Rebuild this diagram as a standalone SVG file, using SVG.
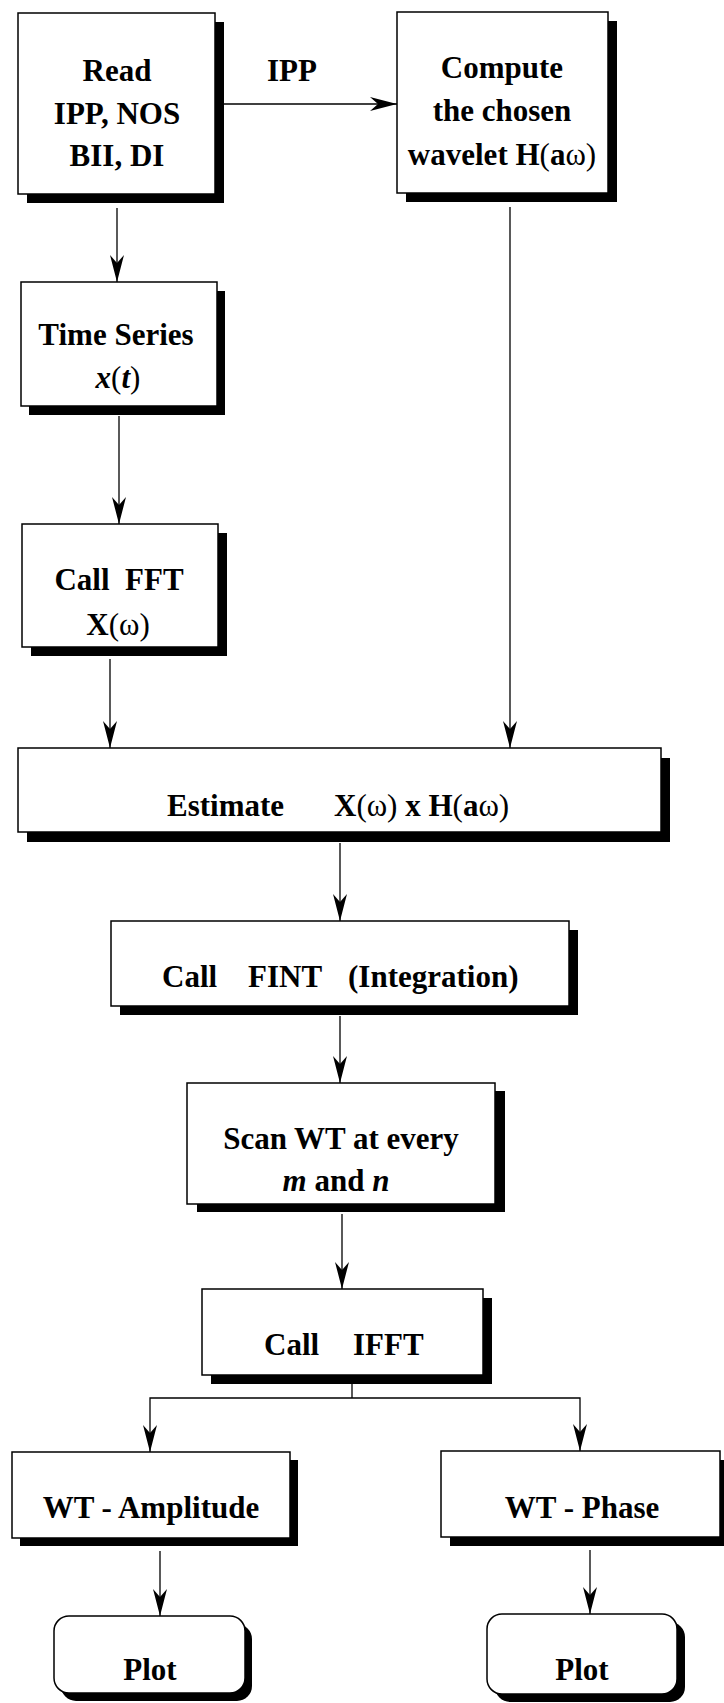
<svg xmlns="http://www.w3.org/2000/svg" width="724" height="1703" viewBox="0 0 724 1703">
<style>
.bg{fill:#fff}
.sh{fill:#000}
.bx{fill:#fff;stroke:#000;stroke-width:1.5}
.t{font-family:"Liberation Serif","Times New Roman",serif;font-weight:bold;font-size:31px;fill:#000}
.c{text-anchor:middle}
.n{font-weight:normal}
.i{font-style:italic}
.ln{fill:none;stroke:#000;stroke-width:1.3}
</style>
<defs>
<marker id="ah" viewBox="0 0 27 14" refX="27" refY="7" markerWidth="27" markerHeight="14" markerUnits="userSpaceOnUse" orient="auto">
<path d="M0,0 L27,7 L0,14 L8,7 Z" fill="#000"/>
</marker>
</defs>
<rect class="bg" x="0" y="0" width="724" height="1703"/>

<g id="connectors">
<line class="ln" x1="224" y1="104" x2="397" y2="104" marker-end="url(#ah)"/>
<line class="ln" x1="117" y1="208" x2="117" y2="282" marker-end="url(#ah)"/>
<line class="ln" x1="119" y1="416" x2="119" y2="524" marker-end="url(#ah)"/>
<line class="ln" x1="110" y1="659" x2="110" y2="748" marker-end="url(#ah)"/>
<line class="ln" x1="510" y1="207" x2="510" y2="748" marker-end="url(#ah)"/>
<line class="ln" x1="340" y1="843" x2="340" y2="921" marker-end="url(#ah)"/>
<line class="ln" x1="340" y1="1016" x2="340" y2="1083" marker-end="url(#ah)"/>
<line class="ln" x1="342" y1="1214" x2="342" y2="1289" marker-end="url(#ah)"/>
<path class="ln" d="M352,1384 V1398"/>
<path class="ln" d="M352,1398 H150 V1452" marker-end="url(#ah)"/>
<path class="ln" d="M352,1398 H580 V1451" marker-end="url(#ah)"/>
<line class="ln" x1="160" y1="1551" x2="160" y2="1616" marker-end="url(#ah)"/>
<line class="ln" x1="590" y1="1550" x2="590" y2="1614" marker-end="url(#ah)"/>
</g>

<text id="lbl-ipp" class="t c" x="292" y="81">IPP</text>

<g id="read">
<rect class="sh" x="27" y="22" width="197" height="181"/>
<rect class="bx" x="18" y="13" width="197" height="181"/>
<text class="t c" x="117" y="81">Read</text>
<text class="t c" x="117" y="124">IPP, NOS</text>
<text class="t c" x="117" y="166">BII, DI</text>
</g>

<g id="compute">
<rect class="sh" x="406" y="21" width="211" height="181"/>
<rect class="bx" x="397" y="12" width="211" height="181"/>
<text class="t c" x="502" y="78">Compute</text>
<text class="t c" x="502" y="121">the chosen</text>
<text class="t c" x="502" y="165">wavelet H<tspan class="n">(</tspan>a<tspan class="n">ω)</tspan></text>
</g>

<g id="timeseries">
<rect class="sh" x="29" y="291" width="196" height="124"/>
<rect class="bx" x="21" y="282" width="196" height="124"/>
<text class="t c" x="116" y="345">Time Series</text>
<text class="t c" x="118" y="388"><tspan class="i">x</tspan><tspan class="n">(</tspan><tspan class="i">t</tspan><tspan class="n">)</tspan></text>
</g>

<g id="fft">
<rect class="sh" x="31" y="533" width="196" height="123"/>
<rect class="bx" x="22" y="524" width="196" height="123"/>
<text class="t c" x="119" y="590" xml:space="preserve">Call  FFT</text>
<text class="t c" x="118" y="635">X<tspan class="n">(ω)</tspan></text>
</g>

<g id="estimate">
<rect class="sh" x="27" y="758" width="643" height="84"/>
<rect class="bx" x="18" y="748" width="643" height="84"/>
<text class="t" x="167" y="816">Estimate</text>
<text class="t" x="334" y="816">X<tspan class="n">(ω)</tspan> x H<tspan class="n">(</tspan>a<tspan class="n">ω)</tspan></text>
</g>

<g id="fint">
<rect class="sh" x="120" y="930" width="458" height="85"/>
<rect class="bx" x="111" y="921" width="458" height="85"/>
<text class="t" x="162" y="987">Call</text>
<text class="t" x="248" y="987">FINT</text>
<text class="t" x="348" y="987">(Integration)</text>
</g>

<g id="scan">
<rect class="sh" x="197" y="1091" width="308" height="121"/>
<rect class="bx" x="187" y="1083" width="308" height="121"/>
<text class="t c" x="341" y="1149">Scan WT at every</text>
<text class="t c" x="336" y="1191"><tspan class="i">m</tspan> and <tspan class="i">n</tspan></text>
</g>

<g id="ifft">
<rect class="sh" x="211" y="1298" width="281" height="86"/>
<rect class="bx" x="202" y="1289" width="281" height="86"/>
<text class="t" x="264" y="1355">Call</text>
<text class="t" x="353" y="1355">IFFT</text>
</g>

<g id="amplitude">
<rect class="sh" x="20" y="1460" width="278" height="86"/>
<rect class="bx" x="12" y="1452" width="278" height="86"/>
<text class="t c" x="151" y="1518">WT - Amplitude</text>
</g>

<g id="phase">
<rect class="sh" x="450" y="1460" width="279" height="86"/>
<rect class="bx" x="441" y="1451" width="279" height="86"/>
<text class="t c" x="582" y="1518">WT - Phase</text>
</g>

<g id="plot-amp">
<rect class="sh" x="61" y="1624" width="191" height="77" rx="15"/>
<rect class="bx" x="54" y="1616" width="191" height="77" rx="15"/>
<text class="t c" x="150" y="1680">Plot</text>
</g>

<g id="plot-phase">
<rect class="sh" x="495" y="1622" width="190" height="80" rx="15"/>
<rect class="bx" x="487" y="1614" width="190" height="80" rx="15"/>
<text class="t c" x="582" y="1680">Plot</text>
</g>
</svg>
